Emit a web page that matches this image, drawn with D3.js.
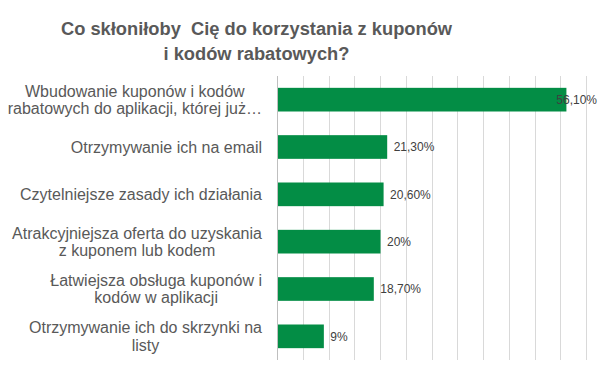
<!DOCTYPE html>
<html>
<head>
<meta charset="utf-8">
<script src="https://cdn.jsdelivr.net/npm/d3@7"></script>
<style>
  html, body { margin: 0; padding: 0; background: #ffffff; }
  svg { display: block; font-family: "Liberation Sans", Arial, sans-serif; }
</style>
</head>
<body>
<svg id="chart" width="602" height="375"></svg>
<script>
const titleLines = ["Co skłoniłoby\u00a0 Cię do korzystania z kuponów", "i kodów rabatowych?"];
const categories = [
  ["Wbudowanie kuponów i kodów", "rabatowych do aplikacji, której już…"],
  ["Otrzymywanie ich na email"],
  ["Czytelniejsze zasady ich działania"],
  ["Atrakcyjniejsza oferta do uzyskania", "z kuponem lub kodem"],
  ["Łatwiejsza obsługa kuponów i", "kodów w aplikacji"],
  ["Otrzymywanie ich do skrzynki na", "listy"]
];
const values = [0.561, 0.213, 0.206, 0.20, 0.187, 0.09];
const gridTicks = [0, 0.05, 0.10, 0.15, 0.20, 0.25, 0.30, 0.35, 0.40, 0.45, 0.50, 0.55, 0.60];

const W = 602, H = 375;
const plot = { left: 277, right: 586, top: 76, bottom: 360 };
const svg = d3.select("#chart");

const x = d3.scaleLinear().domain([0, 0.6]).range([plot.left, plot.right]);
const y = d3.scaleBand().domain(d3.range(categories.length)).range([plot.top, plot.bottom]).paddingInner(0.5).paddingOuter(0.25);

function fmt(v) {
  const p = Math.round(v * 1000) / 10;
  if (Number.isInteger(p)) return p + "%";
  return p.toFixed(2).replace(".", ",") + "%";
}

// title
svg.append("text")
  .attr("x", 256.5).attr("y", 35)
  .attr("text-anchor", "middle")
  .attr("font-size", 18.3).attr("font-weight", "bold").attr("fill", "#595959")
  .selectAll("tspan").data(titleLines).join("tspan")
  .attr("x", 256.5).attr("dy", (d, i) => i === 0 ? 0 : 25)
  .text(d => d);

// gridlines
svg.append("g").selectAll("line").data(gridTicks).join("line")
  .attr("x1", d => Math.round(x(d)) + 0.5).attr("x2", d => Math.round(x(d)) + 0.5)
  .attr("y1", plot.top).attr("y2", plot.bottom)
  .attr("stroke", "#d9d9d9").attr("stroke-width", 1);

// bars
svg.append("g").selectAll("rect").data(values).join("rect")
  .attr("x", x(0) + 0.5)
  .attr("y", (d, i) => y(i))
  .attr("width", d => x(d) - x(0))
  .attr("height", y.bandwidth())
  .attr("fill", "#038d45");

// left axis line
svg.append("line")
  .attr("x1", Math.round(x(0)) + 0.5).attr("x2", Math.round(x(0)) + 0.5)
  .attr("y1", plot.top).attr("y2", plot.bottom)
  .attr("stroke", "#bfbfbf");

// category labels
const lineH = 17.5;
const catG = svg.append("g");
categories.forEach((lines, i) => {
  const cy = y(i) + y.bandwidth() / 2;
  const t = catG.append("text")
    .attr("text-anchor", "middle")
    .attr("font-size", 16).attr("fill", "#595959");
  const n = lines.length;
  lines.forEach((ln, j) => {
    t.append("tspan")
      .attr("x", 0)
      .attr("y", cy + (j - (n - 1) / 2) * lineH + 5.6)
      .text(ln);
  });
  // right-align block with center alignment of lines
  const bb = t.node().getBBox();
  const right = 262;
  t.attr("transform", `translate(${right - bb.width / 2},0)`);
});

// value labels
const valG = svg.append("g");
values.forEach((v, i) => {
  const t = valG.append("text")
    .attr("y", y(i) + y.bandwidth() / 2 + 4.2)
    .attr("font-size", 12).attr("fill", "#404040")
    .text(fmt(v));
  const w = t.node().getComputedTextLength();
  const xPos = Math.min(x(v) + 7, W - 5 - w);
  t.attr("x", xPos);
});
</script>
</body>
</html>
